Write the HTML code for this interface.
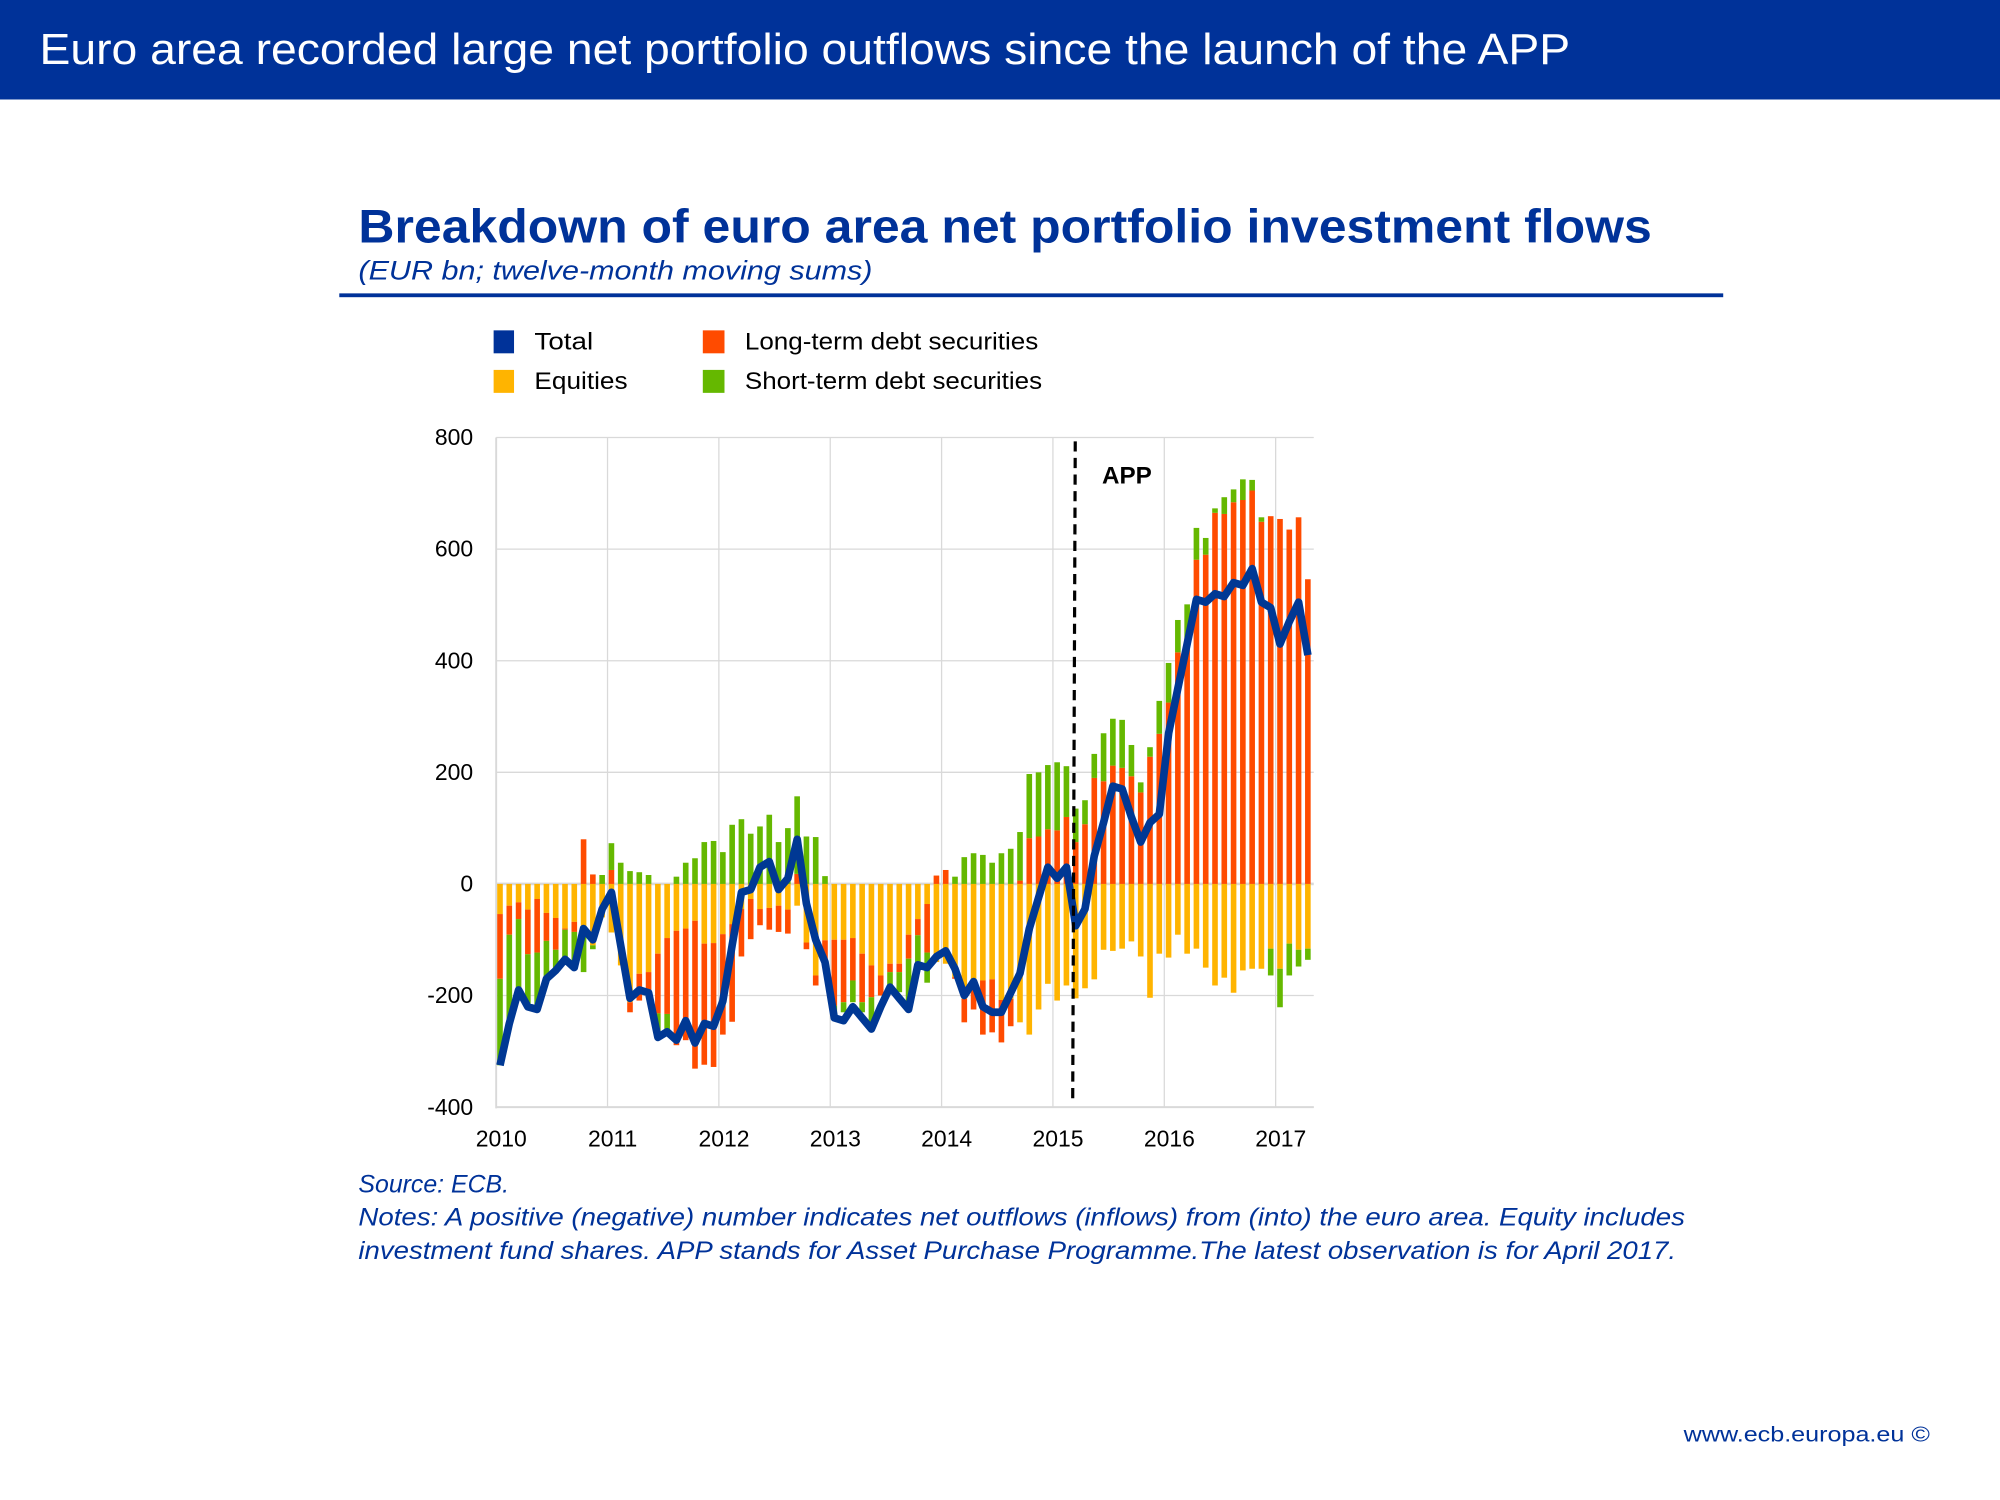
<!DOCTYPE html>
<html><head><meta charset="utf-8">
<style>
html,body{margin:0;padding:0;background:#fff;}
svg{display:block;}
text{font-family:"Liberation Sans",Arial,sans-serif;}
</style></head>
<body>
<svg id="s" xmlns="http://www.w3.org/2000/svg" width="2000" height="1500" viewBox="0 0 1568 1176">
<rect x="0" y="0" width="1568" height="78" fill="#003299"/>
<text x="31" y="50" font-size="34" fill="#fff" textLength="1200" lengthAdjust="spacingAndGlyphs">Euro area recorded large net portfolio outflows since the launch of the APP</text>
<text x="281" y="190" font-size="37" font-weight="bold" fill="#003299" textLength="1014" lengthAdjust="spacingAndGlyphs">Breakdown of euro area net portfolio investment flows</text>
<text x="281" y="219" font-size="21" font-style="italic" fill="#003299" textLength="403" lengthAdjust="spacingAndGlyphs">(EUR bn; twelve-month moving sums)</text>
<rect x="266" y="230" width="1085" height="3" fill="#003299"/>
<rect x="387" y="259" width="16" height="18" fill="#003299"/>
<text x="419" y="274" font-size="19" textLength="46" lengthAdjust="spacingAndGlyphs">Total</text>
<rect x="551" y="259" width="17" height="18" fill="#FF4B00"/>
<text x="584" y="274" font-size="19" textLength="230" lengthAdjust="spacingAndGlyphs">Long-term debt securities</text>
<rect x="387" y="290" width="16" height="18" fill="#FFB400"/>
<text x="419" y="305" font-size="19" textLength="73" lengthAdjust="spacingAndGlyphs">Equities</text>
<rect x="551" y="290" width="17" height="18" fill="#65B800"/>
<text x="584" y="305" font-size="19" textLength="233" lengthAdjust="spacingAndGlyphs">Short-term debt securities</text>
<g id="grid"></g>
<g id="bars"></g>
<polyline id="line" fill="none" stroke="#003894" stroke-width="6" stroke-linejoin="round" points=""/>
<line x1="843" y1="346" x2="841" y2="862" stroke="#000" stroke-width="2.5" stroke-dasharray="8,5"/>
<text x="864" y="379" font-size="19" font-weight="bold">APP</text>
<g id="labels" font-size="18" fill="#000"></g>
<text x="281" y="935" font-size="19.5" font-style="italic" fill="#003299">Source: ECB.</text>
<text x="281" y="961" font-size="19.5" font-style="italic" fill="#003299" textLength="1040" lengthAdjust="spacingAndGlyphs">Notes: A positive (negative) number indicates net outflows (inflows) from (into) the euro area. Equity includes</text>
<text x="281" y="987" font-size="19.5" font-style="italic" fill="#003299" textLength="1033" lengthAdjust="spacingAndGlyphs">investment fund shares. APP stands for Asset Purchase Programme.The latest observation is for April 2017.</text>
<text x="1320" y="1130" font-size="17" fill="#003299" textLength="193" lengthAdjust="spacingAndGlyphs">www.ecb.europa.eu ©</text>
</svg>
<script>
var NS="http://www.w3.org/2000/svg";
function el(p,t,a){var e=document.createElementNS(NS,t);for(var k in a)e.setAttribute(k,a[k]);p.appendChild(e);return e;}
var d=[[-54,-116,-155,-325],[-39,-52,-160,-250],[-33,-30,-130,-190],[-46,-80,-90,-220],[-27,-96,-100,-225],[-52,-50,-68,-170],[-61,-57,-40,-155],[-80,-2,-52,-135],[-68,-18,-66,-150],[-75,80,-83,-80],[-110,17,-7,-100],[-60,0,16,-45],[-87,25,48,-15],[-146,0,38,-110],[-212,-18,23,-205],[-161,-48,21,-190],[-158,-36,16,-195],[-125,-107,-45,-275],[-97,-136,-40,-265],[-84,-205,13,-280],[-80,-200,38,-245],[-66,-265,46,-285],[-107,-217,75,-250],[-106,-222,77,-255],[-90,-180,57,-210],[-72,-175,106,-110],[-45,-85,116,-15],[-27,-72,90,-10],[-45,-29,103,30],[-43,-39,124,40],[-39,-47,75,-10],[-46,-43,100,10],[-39,18,139,80],[-105,-12,85,-35],[-164,-18,84,-100],[-101,-48,14,-140],[-100,-118,-20,-240],[-100,-112,-18,-245],[-97,-76,-39,-220],[-125,-87,-18,-240],[-146,-57,-55,-260],[-164,-36,0,-220],[-143,-15,-36,-185],[-143,-15,-36,-205],[-91,-43,-90,-225],[-63,-29,-49,-145],[-36,-87,-54,-150],[-140,15,0,-130],[-143,25,0,-120],[-167,-3,13,-152],[-206,-42,48,-200],[-173,-52,55,-175],[-173,-97,52,-220],[-171,-95,38,-230],[-208,-76,55,-230],[-206,-49,63,-195],[-248,6,87,-160],[-270,82,115,-80],[-225,85,115,-25],[-179,98,115,30],[-209,96,122,10],[-182,120,91,30],[-205,75,60,-75],[-187,107,43,-45],[-171,190,43,50],[-118,184,86,110],[-120,212,84,175],[-116,208,86,170],[-103,193,56,120],[-130,164,18,75],[-204,228,17,110],[-125,269,59,125],[-132,325,71,270],[-91,415,58,350],[-125,440,61,430],[-116,581,57,510],[-150,590,30,505],[-182,665,8,520],[-168,663,30,515],[-195,684,23,540],[-155,688,37,535],[-152,705,19,565],[-152,649,8,505],[-116,659,-48,495],[-152,654,-69,430],[-107,635,-57,470],[-118,657,-30,505],[-116,546,-20,410]];
var Y0=693,U=0.4375,X0=389,YW=87.3;
function yv(v){return Y0-v*U;}
var g=document.getElementById("grid");
for(var v=-400;v<=800;v+=200){el(g,"line",{x1:X0,x2:1030,y1:yv(v),y2:yv(v),stroke:"#d9d9d9","stroke-width":v==0?2:1});}
for(var i=1;i<=7;i++){var x=X0+i*YW;el(g,"line",{x1:x,x2:x,y1:343,y2:868,stroke:"#d9d9d9","stroke-width":1});}
el(g,"line",{x1:X0,x2:X0,y1:343,y2:869,stroke:"#d9d9d9","stroke-width":1.5});
el(g,"line",{x1:X0,x2:1030,y1:868,y2:868,stroke:"#d9d9d9","stroke-width":1.5});
var b=document.getElementById("bars"),cols=["#FFB400","#FF4B00","#65B800"],pts=[];
for(var i=0;i<d.length;i++){var x=392+i*7.28,pos=0,neg=0;
 for(var k=0;k<3;k++){var v=d[i][k];if(v>0){el(b,"rect",{x:x-2.2,width:4.4,y:yv(pos+v),height:v*U,fill:cols[k]});pos+=v;}else if(v<0){el(b,"rect",{x:x-2.2,width:4.4,y:yv(neg),height:-v*U,fill:cols[k]});neg+=v;}}
 pts.push(x.toFixed(1)+","+yv(d[i][3]).toFixed(1));}
document.getElementById("line").setAttribute("points",pts.join(" "));
var L=document.getElementById("labels");
for(var v=-400;v<=800;v+=200){var t=el(L,"text",{x:371,y:yv(v)+6,"text-anchor":"end"});t.textContent=v;}
for(var i=0;i<=7;i++){var t=el(L,"text",{x:X0+i*YW+4,y:899,"text-anchor":"middle"});t.textContent=2010+i;}
</script>
</body></html>
